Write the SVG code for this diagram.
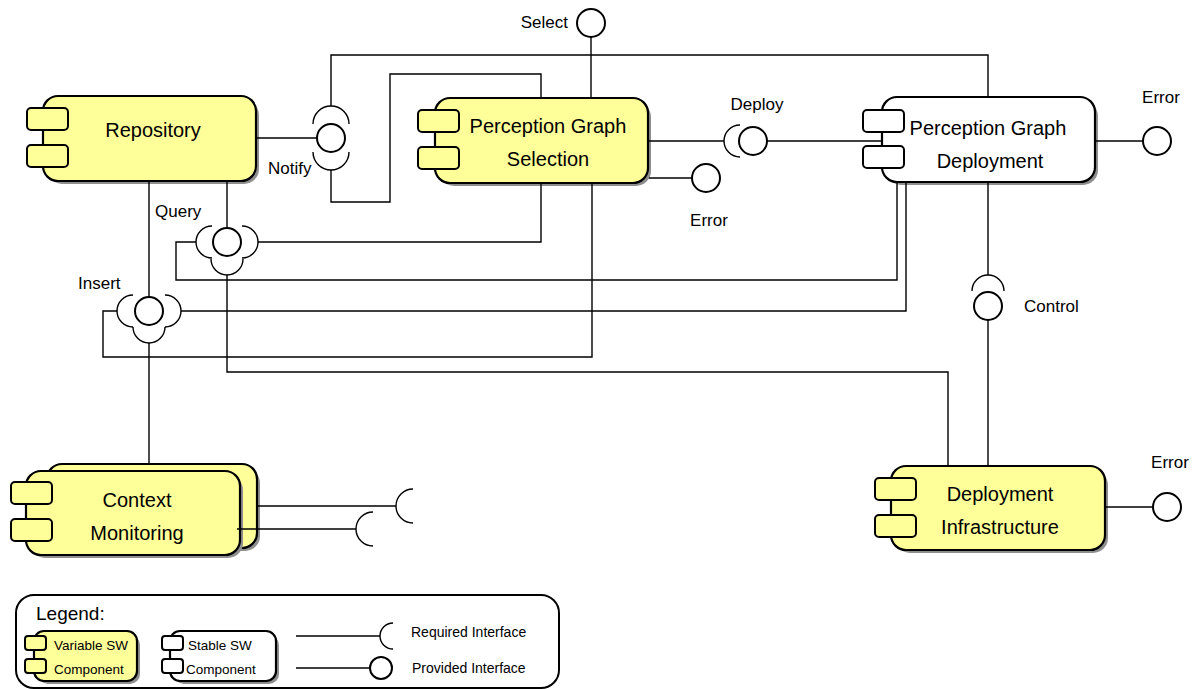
<svg xmlns="http://www.w3.org/2000/svg" width="1194" height="689" viewBox="0 0 1194 689">
  <style>
    .body { stroke: #000; stroke-width: 2.2; }
    .var { fill: #ffff99; }
    .stable { fill: #ffffff; }
    .shadow { fill: #8f8f8f; }
    .port { stroke: #000; stroke-width: 2; }
    .wire { fill: none; stroke: #000; stroke-width: 1.4; }
    .sock { fill: none; stroke: #000; stroke-width: 1.4; }
    .ball { fill: #fff; stroke: #000; stroke-width: 2; }
    .name { font-family: "Liberation Sans", Arial, sans-serif; font-size: 20px; text-anchor: middle; fill: #000; }
    .lbl { font-family: "Liberation Sans", Arial, sans-serif; font-size: 17px; fill: #000; }
    .leg { font-family: "Liberation Sans", Arial, sans-serif; font-size: 14px; fill: #000; }
    .legs { font-family: "Liberation Sans", Arial, sans-serif; font-size: 13.5px; fill: #000; }
  </style>
  <rect width="1194" height="689" fill="#fff"/>

  <!-- Repository -->
  <g id="repository">
    <rect class="shadow" x="47" y="100" width="212" height="84" rx="15"/>
    <rect class="body var" x="43" y="96" width="213" height="85" rx="15"/>
    <rect class="port var" x="27" y="108" width="41" height="22" rx="4"/>
    <rect class="port var" x="27" y="145" width="41" height="22" rx="4"/>
    <text class="name" x="153" y="137">Repository</text>
  </g>

  <!-- Perception Graph Selection -->
  <g id="selection">
    <rect class="shadow" x="439" y="102" width="212" height="84" rx="15"/>
    <rect class="body var" x="435" y="98" width="213" height="85" rx="15"/>
    <rect class="port var" x="418" y="110" width="41" height="22" rx="4"/>
    <rect class="port var" x="418" y="147" width="41" height="22" rx="4"/>
    <text class="name" x="548" y="133">Perception Graph</text>
    <text class="name" x="548" y="166">Selection</text>
  </g>

  <!-- Perception Graph Deployment -->
  <g id="deployment">
    <rect class="shadow" x="886" y="101" width="212" height="84" rx="15"/>
    <rect class="body stable" x="882" y="97" width="213" height="85" rx="15"/>
    <rect class="port stable" x="863" y="110" width="41" height="22" rx="4"/>
    <rect class="port stable" x="863" y="146" width="41" height="22" rx="4"/>
    <text class="name" x="988" y="135">Perception Graph</text>
    <text class="name" x="990" y="168">Deployment</text>
  </g>

  <!-- Deployment Infrastructure -->
  <g id="infrastructure">
    <rect class="shadow" x="895" y="470" width="213" height="83" rx="15"/>
    <rect class="body var" x="891" y="466" width="214" height="84" rx="15"/>
    <rect class="port var" x="875" y="478" width="41" height="22" rx="4"/>
    <rect class="port var" x="875" y="515" width="41" height="22" rx="4"/>
    <text class="name" x="1000" y="501">Deployment</text>
    <text class="name" x="1000" y="534">Infrastructure</text>
  </g>

  <!-- Context Monitoring (multiple instances) -->
  <g id="context-monitoring">
    <rect class="shadow" x="51" y="468" width="209" height="83" rx="15"/>
    <rect class="body var" x="47" y="464" width="210" height="84" rx="15"/>
    <rect class="shadow" x="30" y="475" width="213" height="83" rx="15"/>
    <rect class="body var" x="26" y="471" width="214" height="84" rx="15"/>
    <rect class="port var" x="11" y="482" width="41" height="22" rx="4"/>
    <rect class="port var" x="11" y="519" width="41" height="22" rx="4"/>
    <text class="name" x="137" y="507">Context</text>
    <text class="name" x="137" y="540">Monitoring</text>
  </g>

  <!-- connectors, drawn over the component shadows -->
  <g id="connectors">
    <!-- Notify -->
    <line class="wire" x1="257" y1="138" x2="317" y2="138"/>
    <path class="wire" d="M331,106 V55 H988 V96"/>
    <path class="wire" d="M331,170 V202 H390 V74 H541 V97"/>
    <path class="sock" d="M313,124 A18 18 0 0 1 349,124"/>
    <path class="sock" d="M313,152 A18 18 0 0 0 349,152"/>
    <circle class="ball" cx="331" cy="138" r="14"/>
    <!-- Select -->
    <line class="wire" x1="591" y1="37" x2="591" y2="97"/>
    <circle class="ball" cx="591" cy="23" r="14"/>
    <!-- Query -->
    <line class="wire" x1="227" y1="182" x2="227" y2="228"/>
    <path class="wire" d="M258,242 H541 V184"/>
    <path class="wire" d="M196,242 H176 V280 H897 V183"/>
    <path class="wire" d="M227,275 V372 H948 V465"/>
    <path class="sock" d="M212,226 A16 16 0 0 0 212,258"/>
    <path class="sock" d="M242,226 A16 16 0 0 1 242,258"/>
    <path class="sock" d="M211,259 A16 16 0 0 0 243,259"/>
    <circle class="ball" cx="227" cy="242" r="14"/>
    <!-- Insert -->
    <line class="wire" x1="149" y1="182" x2="149" y2="297"/>
    <path class="wire" d="M117,311 H103 V357 H592 V184"/>
    <path class="wire" d="M181,311 H906 V183"/>
    <line class="wire" x1="149" y1="343" x2="149" y2="463"/>
    <path class="sock" d="M133,295 A16 16 0 0 0 133,327"/>
    <path class="sock" d="M165,295 A16 16 0 0 1 165,327"/>
    <path class="sock" d="M133,327 A16 16 0 0 0 165,327"/>
    <circle class="ball" cx="149" cy="311" r="14"/>
    <!-- Deploy -->
    <line class="wire" x1="649" y1="141" x2="724" y2="141"/>
    <line class="wire" x1="767" y1="141" x2="881" y2="141"/>
    <path class="sock" d="M740,125 A16 16 0 0 0 740,157"/>
    <circle class="ball" cx="753" cy="141" r="14"/>
    <!-- Error (selection) -->
    <line class="wire" x1="649" y1="178" x2="692" y2="178"/>
    <circle class="ball" cx="706" cy="178" r="14"/>
    <!-- Error (deployment) -->
    <line class="wire" x1="1096" y1="141" x2="1143" y2="141"/>
    <circle class="ball" cx="1157" cy="141" r="14"/>
    <!-- Control -->
    <line class="wire" x1="988" y1="183" x2="988" y2="275"/>
    <line class="wire" x1="988" y1="320" x2="988" y2="465"/>
    <path class="sock" d="M972,291 A16 16 0 0 1 1004,291"/>
    <circle class="ball" cx="988" cy="306" r="14"/>
    <!-- Error (infrastructure) -->
    <line class="wire" x1="1106" y1="507" x2="1153" y2="507"/>
    <circle class="ball" cx="1167" cy="507" r="14"/>
    <!-- Context monitoring required interfaces -->
    <line class="wire" x1="258" y1="506" x2="396" y2="506"/>
    <path class="sock" d="M413,489 A17 17 0 0 0 413,523"/>
    <line class="wire" x1="237" y1="529" x2="356" y2="529"/>
    <path class="sock" d="M373,512 A17 17 0 0 0 373,546"/>
  </g>

  <!-- interface labels -->
  <g id="labels">
    <text class="lbl" x="568" y="28" text-anchor="end">Select</text>
    <text class="lbl" x="268" y="174">Notify</text>
    <text class="lbl" x="155" y="217">Query</text>
    <text class="lbl" x="78" y="289">Insert</text>
    <text class="lbl" x="757" y="110" text-anchor="middle">Deploy</text>
    <text class="lbl" x="709" y="226" text-anchor="middle">Error</text>
    <text class="lbl" x="1161" y="103" text-anchor="middle">Error</text>
    <text class="lbl" x="1024" y="312">Control</text>
    <text class="lbl" x="1170" y="468" text-anchor="middle">Error</text>
  </g>

  <!-- Legend -->
  <g id="legend">
    <rect x="16" y="595" width="543" height="93" rx="18" fill="#fff" stroke="#000" stroke-width="2"/>
    <text x="36" y="620" font-family="Liberation Sans, Arial, sans-serif" font-size="19">Legend:</text>
    <rect class="shadow" x="38" y="635" width="102" height="49" rx="10"/>
    <rect class="body var" x="34" y="631" width="103" height="50" rx="10" stroke-width="2"/>
    <rect class="port var" x="25" y="636" width="21" height="14" rx="3"/>
    <rect class="port var" x="25" y="659" width="21" height="14" rx="3"/>
    <text class="legs" x="54" y="650">Variable SW</text>
    <text class="legs" x="54" y="674">Component</text>
    <rect class="shadow" x="174" y="635" width="105" height="49" rx="10"/>
    <rect class="body stable" x="170" y="631" width="106" height="50" rx="10" stroke-width="2"/>
    <rect class="port stable" x="162" y="636" width="21" height="14" rx="3"/>
    <rect class="port stable" x="162" y="659" width="21" height="14" rx="3"/>
    <text class="legs" x="188" y="650">Stable SW</text>
    <text class="legs" x="186" y="674">Component</text>
    <line class="wire" x1="296" y1="636" x2="380" y2="636"/>
    <path class="sock" d="M393,623 A13 13 0 0 0 393,649"/>
    <text class="leg" x="411" y="637">Required Interface</text>
    <line class="wire" x1="296" y1="668" x2="370" y2="668"/>
    <circle class="ball" cx="381" cy="668" r="11" stroke-width="1.6"/>
    <text class="leg" x="412" y="673">Provided Interface</text>
  </g>
</svg>
